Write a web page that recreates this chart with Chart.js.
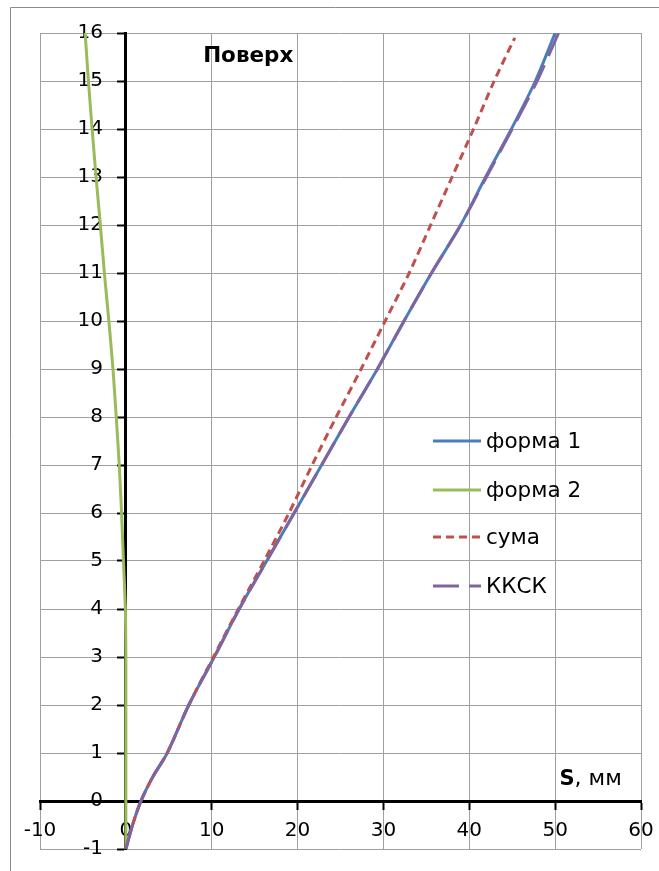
<!DOCTYPE html>
<html><head><meta charset="utf-8">
<style>html,body{margin:0;padding:0;background:#fff;overflow:hidden}canvas{display:block}</style>
<script src="https://cdn.jsdelivr.net/npm/chart.js@4.4.1/dist/chart.umd.min.js"></script>
</head><body>
<canvas id="c" width="659" height="871"></canvas>
<script>
// Depth levels (y values) shared by the series
const depthLevels = [-1, -0.5, 0, 0.5, 1, 2, 3, 4, 5, 6, 7, 8, 9, 10, 11, 12, 13, 14, 15, 16];
// форма 1
const forma1X = [0, 0.78, 1.76, 3.13, 4.82, 7.33, 10.3, 13.2, 16.4, 19.6, 22.8, 26.0, 29.3, 32.4, 35.6, 39.0, 41.9, 44.9, 47.7, 50.0];
// форма 2
const forma2X = [0, 0, 0, 0, 0, 0, 0, -0.05, -0.28, -0.5, -0.77, -1.12, -1.5, -1.98, -2.5, -2.97, -3.47, -3.93, -4.36, -4.74];
// сума (ends just below the top)
const sumaDepth = [-1, -0.5, 0, 0.5, 1, 2, 3, 4, 5, 6, 7, 8, 9, 10, 11, 12, 13, 14, 15, 15.9];
const sumaX = [0, 0.78, 1.76, 3.13, 4.82, 7.33, 10.2, 13.1, 16.1, 19.0, 21.7, 24.5, 27.4, 30.2, 33.0, 35.5, 38.0, 40.5, 42.9, 45.3];
// ККСК
const kkskX = [0, 0.78, 1.76, 3.13, 4.82, 7.33, 10.3, 13.2, 16.4, 19.6, 22.8, 26.0, 29.3, 32.4, 35.6, 39.0, 42.0, 45.0, 47.9, 50.4];

const seriesNames = ['форма 1', 'форма 2', 'сума', 'ККСК'];
const xMin = -10, xMax = 60, xStep = 10;
const yMin = -1, yMax = 16, yStep = 1;
const cornerLabel = 'Поверх';
const axisLabelBold = 'S';
const axisLabelRest = ', мм';

const FONT = '"DejaVu Sans", "Liberation Sans", Arial, sans-serif';

function pts(xs, ys) { return xs.map((x, i) => ({x: x, y: ys[i]})); }

const colors = ['#4a7ebb', '#9bbb59', '#c0504d', '#8064a2'];
const dashes = [[], [], [8, 5], [26, 10]];
const tensions = [0.3, 0.15, 0.3, 0.3];

const datasets = [
  {label: seriesNames[0], data: pts(forma1X, depthLevels)},
  {label: seriesNames[1], data: pts(forma2X, depthLevels)},
  {label: seriesNames[2], data: pts(sumaX, sumaDepth)},
  {label: seriesNames[3], data: pts(kkskX, depthLevels)}
].map((d, i) => Object.assign(d, {
  borderColor: colors[i], backgroundColor: colors[i], borderWidth: 3,
  borderDash: dashes[i], pointRadius: 0, showLine: true, tension: tensions[i],
  fill: false, order: 4 - i
}));

function noPad(scale) {
  scale.paddingLeft = 0; scale.paddingRight = 0;
  scale.paddingTop = 0; scale.paddingBottom = 0;
}

const extras = {
  id: 'extras',
  beforeDraw(chart) {
    const ctx = chart.ctx;
    // shift y tick labels left of the tick marks (axis sits at x = 0)
    const ys = chart.scales.y;
    const items = ys.getLabelItems();
    if (!ys._shifted) {
      items.forEach(it => { it.options.translation[0] -= 23; });
      ys._shifted = true;
    }
    ctx.save();
    ctx.fillStyle = '#fff';
    ctx.fillRect(0, 0, chart.width, chart.height);
    ctx.strokeStyle = '#8c8c8c';
    ctx.lineWidth = 1;
    ctx.beginPath();
    ctx.moveTo(10.5, chart.height + 5);
    ctx.lineTo(10.5, 7.5);
    ctx.lineTo(chart.width + 5, 7.5);
    ctx.stroke();
    ctx.restore();
  },
  afterDraw(chart) {
    const ctx = chart.ctx;
    const xs = chart.scales.x, ys = chart.scales.y;
    ctx.save();
    ctx.fillStyle = '#000';
    ctx.textBaseline = 'alphabetic';
    // corner label
    ctx.font = 'bold 21.5px ' + FONT;
    ctx.fillText(cornerLabel, xs.getPixelForValue(9.0), ys.getPixelForValue(15.4));
    // axis label
    const ax = xs.getPixelForValue(50.5), ay = ys.getPixelForValue(0.33);
    ctx.font = 'bold 21px ' + FONT;
    ctx.fillText(axisLabelBold, ax, ay);
    const w = ctx.measureText(axisLabelBold).width;
    ctx.font = '22px ' + FONT;
    ctx.fillText(axisLabelRest, ax + w, ay);
    // legend
    const lx0 = 433, lx1 = 481;
    const legY = [441, 490, 537, 586];
    chart.data.datasets.forEach((ds, i) => {
      ctx.strokeStyle = ds.borderColor;
      ctx.lineWidth = 3;
      ctx.setLineDash(ds.borderDash || []);
      ctx.beginPath();
      ctx.moveTo(lx0, legY[i]);
      ctx.lineTo(lx1, legY[i]);
      ctx.stroke();
      ctx.setLineDash([]);
      ctx.font = '21.5px ' + FONT;
      ctx.textBaseline = 'middle';
      ctx.fillText(ds.label, 486, legY[i] + 1);
    });
    ctx.restore();
  }
};

new Chart(document.getElementById('c'), {
  type: 'scatter',
  data: {datasets: datasets},
  plugins: [extras],
  options: {
    responsive: false,
    animation: false,
    events: [],
    layout: {padding: {left: 40, top: 33, right: 18, bottom: 22}},
    plugins: {legend: {display: false}, tooltip: {enabled: false}, title: {display: false}},
    scales: {
      x: {
        type: 'linear', min: xMin, max: xMax, position: {y: 0},
        afterFit: noPad,
        ticks: {stepSize: xStep, color: '#000', font: {family: FONT, size: 20}, padding: 11, maxRotation: 0},
        grid: {z: -2, color: '#a0a0a0', lineWidth: 1, drawTicks: true, tickLength: 7, tickColor: '#000', tickWidth: 2},
        border: {z: -1, display: true, color: '#000', width: 3}
      },
      y: {
        type: 'linear', min: yMin, max: yMax, position: {x: 0},
        afterFit: noPad,
        ticks: {stepSize: yStep, color: '#000', font: {family: FONT, size: 20}, padding: 16},
        grid: {z: -2, color: '#a0a0a0', lineWidth: 1, drawTicks: true, tickLength: 7, tickColor: '#000', tickWidth: 2},
        border: {z: -1, display: true, color: '#000', width: 3}
      }
    }
  }
});
</script>
</body></html>
